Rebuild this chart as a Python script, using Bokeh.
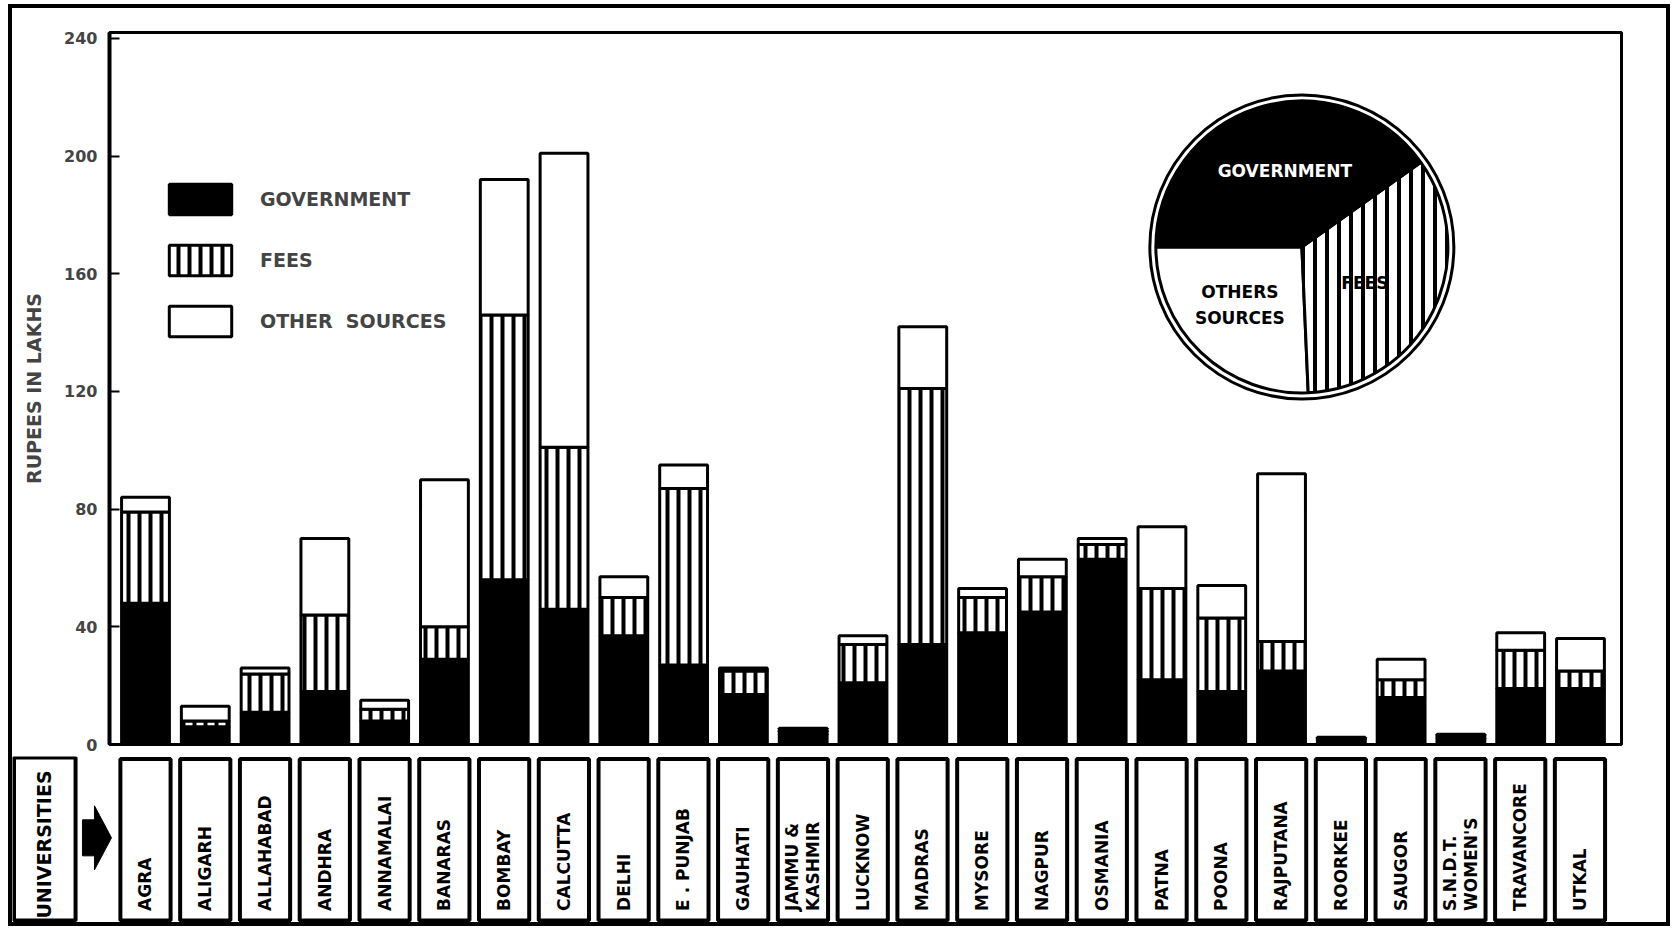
import numpy as np
from bokeh.plotting import figure
from bokeh.models import ColumnDataSource, Range1d, FixedTicker, Legend, LegendItem
from bokeh.layouts import column
from bokeh.embed import file_html
from bokeh.resources import INLINE
from bokeh.core.properties import value

# ---------------- data (Rupees in lakhs) ----------------
universities = ["AGRA", "ALIGARH", "ALLAHABAD", "ANDHRA", "ANNAMALAI", "BANARAS",
                "BOMBAY", "CALCUTTA", "DELHI", "E .  PUNJAB", "GAUHATI",
                "JAMMU  &\nKASHMIR", "LUCKNOW", "MADRAS", "MYSORE", "NAGPUR",
                "OSMANIA", "PATNA", "POONA", "RAJPUTANA", "ROORKEE", "SAUGOR",
                "S.N.D.T.\nWOMEN'S", "TRAVANCORE", "UTKAL"]
government = [48, 6, 11, 18, 8, 29, 56, 46, 37, 27, 17, 3.5, 21, 34, 38, 45,
              63, 22, 18, 25, 1.5, 16, 2, 19, 19]
fees = [31, 2, 13, 26, 4, 11, 90, 55, 13, 60, 8, 1, 13, 87, 12, 12,
        5, 31, 25, 10, 0.5, 6, 1, 13, 6]
other_sources = [5, 5, 2, 26, 3, 50, 46, 100, 7, 8, 1, 1, 3, 21, 3, 6,
                 2, 21, 11, 57, 0.5, 7, 0.5, 6, 11]
y_ticks = [0, 40, 80, 120, 160, 200, 240]
legend_labels = ["GOVERNMENT", "FEES", "OTHER  SOURCES"]
pie_labels = ["OTHERS\nSOURCES", "FEES", "GOVERNMENT"]

FONT = "DejaVu Sans"
W = 1654
PX_X = 59.77          # screen px per category (both figures)

n = len(universities)
xs = np.arange(n)
gov = np.array(government, float)
fee = np.array(fees, float)
oth = np.array(other_sources, float)

src = ColumnDataSource(dict(x=xs, g0=np.zeros(n), g1=gov, f1=gov + fee,
                            o1=gov + fee + oth))

# ---------------- main chart ----------------
p = figure(width=W, height=748, x_range=Range1d(-0.602, 24.686),
           y_range=Range1d(0, 242), output_backend="svg",
           toolbar_location=None, x_axis_location=None,
           min_border_left=97, min_border_right=45, min_border_top=24,
           min_border_bottom=12)
p.frame_align = False
p.xgrid.visible = False
p.ygrid.visible = False
p.outline_line_color = "black"
p.outline_line_width = 3
p.background_fill_color = "white"

ax = p.yaxis[0]
ax.ticker = FixedTicker(ticks=y_ticks)
ax.minor_tick_line_color = None
ax.major_tick_in = 10
ax.major_tick_out = 0
ax.major_tick_line_width = 2
ax.axis_line_width = 4
ax.major_label_standoff = 12
ax.major_label_text_font = FONT
ax.major_label_text_font_style = "bold"
ax.major_label_text_font_size = "16px"
ax.axis_label = "RUPEES IN LAKHS"
ax.axis_label_text_font = FONT
ax.axis_label_text_font_style = "bold"
ax.axis_label_text_font_size = "19px"
ax.axis_label_standoff = 16

BW = 0.8
r_g = p.vbar(x="x", bottom="g0", top="g1", width=BW, source=src,
             fill_color="black", line_color="black", line_width=3)
r_f = p.vbar(x="x", bottom="g1", top="f1", width=BW, source=src,
             fill_color="white", line_color="black", line_width=3,
             hatch_pattern="vertical_line", hatch_color="black",
             hatch_weight=4, hatch_scale=11)
r_o = p.vbar(x="x", bottom="f1", top="o1", width=BW, source=src,
             fill_color="white", line_color="black", line_width=3)

legend = Legend(items=[LegendItem(label=lab, renderers=[r])
                       for lab, r in zip(legend_labels, [r_g, r_f, r_o])],
                location=(52, 404), glyph_width=78, glyph_height=38,
                label_height=38, spacing=23, padding=0, margin=0,
                border_line_color=None, background_fill_alpha=0,
                label_standoff=21, label_text_font=FONT,
                label_text_font_style="bold", label_text_font_size="19px")
p.add_layout(legend)

# ---------------- pie of overall shares ----------------
PIE_X, PIE_Y = 19.34, 169.1
sums = np.array([oth.sum(), fee.sum(), gov.sum()])
frac = sums / sums.sum()
edges = np.pi + 2 * np.pi * np.concatenate([[0], np.cumsum(frac)])
pie_src = ColumnDataSource(dict(
    x=[PIE_X] * 3, y=[PIE_Y] * 3, start=edges[:-1], end=edges[1:],
    fill=["white", "white", "black"],
    hatch=[" ", "vertical_line", " "]))
p.wedge(x="x", y="y", radius=146, radius_units="screen",
        start_angle="start", end_angle="end", source=pie_src,
        fill_color="fill", line_color="black", line_width=3,
        hatch_pattern="hatch", hatch_color="black", hatch_weight=4,
        hatch_scale=12)
p.circle(x=[PIE_X], y=[PIE_Y], radius=152, radius_units="screen",
         fill_color=None, line_color="black", line_width=3)
p.text(x=[PIE_X] * 3, y=[PIE_Y] * 3, text=pie_labels,
       x_offset=[-62, 63, -17], y_offset=[58, 36, -76],
       text_color=["black", "black", "white"],
       text_align="center", text_baseline="middle",
       text_font=value(FONT), text_font_style="bold",
       text_font_size="17px", text_line_height=1.3)

# ---------------- university label strip ----------------
H2 = 166
X0 = -2.225
p2 = figure(width=W, height=H2, x_range=Range1d(X0, X0 + W / PX_X),
            y_range=Range1d(0, 1), output_backend="svg",
            toolbar_location=None, x_axis_location=None,
            y_axis_location=None, min_border=0)
p2.frame_align = False
p2.xgrid.visible = False
p2.ygrid.visible = False
p2.outline_line_color = None

p2.quad(left=xs - 0.42, right=xs + 0.42, bottom=0.012, top=0.985,
        fill_color="white", line_color="black", line_width=4)
p2.text(x=xs, y=0.07, text=universities, angle=np.pi / 2,
        text_align="left", text_baseline="middle",
        text_font=value(FONT), text_font_style="bold",
        text_font_size="17px", text_line_height=1.05)

p2.quad(left=[-2.2], right=[-1.17], bottom=[0.012], top=[0.994],
        fill_color="white", line_color="black", line_width=4)
p2.text(x=[-1.69], y=[0.47], text=["UNIVERSITIES"], angle=np.pi / 2,
        text_align="center", text_baseline="middle",
        text_font=value(FONT), text_font_style="bold",
        text_font_size="19px")

# block arrow pointing at the labels (sizes in screen px)
ax0, ay0 = -0.82, 0.51          # arrow centre in strip coordinates
sx, sy = 1 / PX_X, 1 / H2
shaft_x = ax0 + sx * np.array([-14, 0, 0, -14])
shaft_y = ay0 + sy * np.array([-18, -18, 18, 18])
head_x = ax0 + sx * np.array([-2, 15, -2])
head_y = ay0 + sy * np.array([-32, 0, 32])
p2.patch(x=shaft_x, y=shaft_y, fill_color="black", line_color="black")
p2.patch(x=head_x, y=head_y, fill_color="black", line_color="black")

layout = column(p, p2, spacing=0,
                styles={"border": "4px solid black", "background": "white",
                        "margin-left": "8px", "margin-top": "4px"})
open("out.html", "w").write(file_html(layout, INLINE))
